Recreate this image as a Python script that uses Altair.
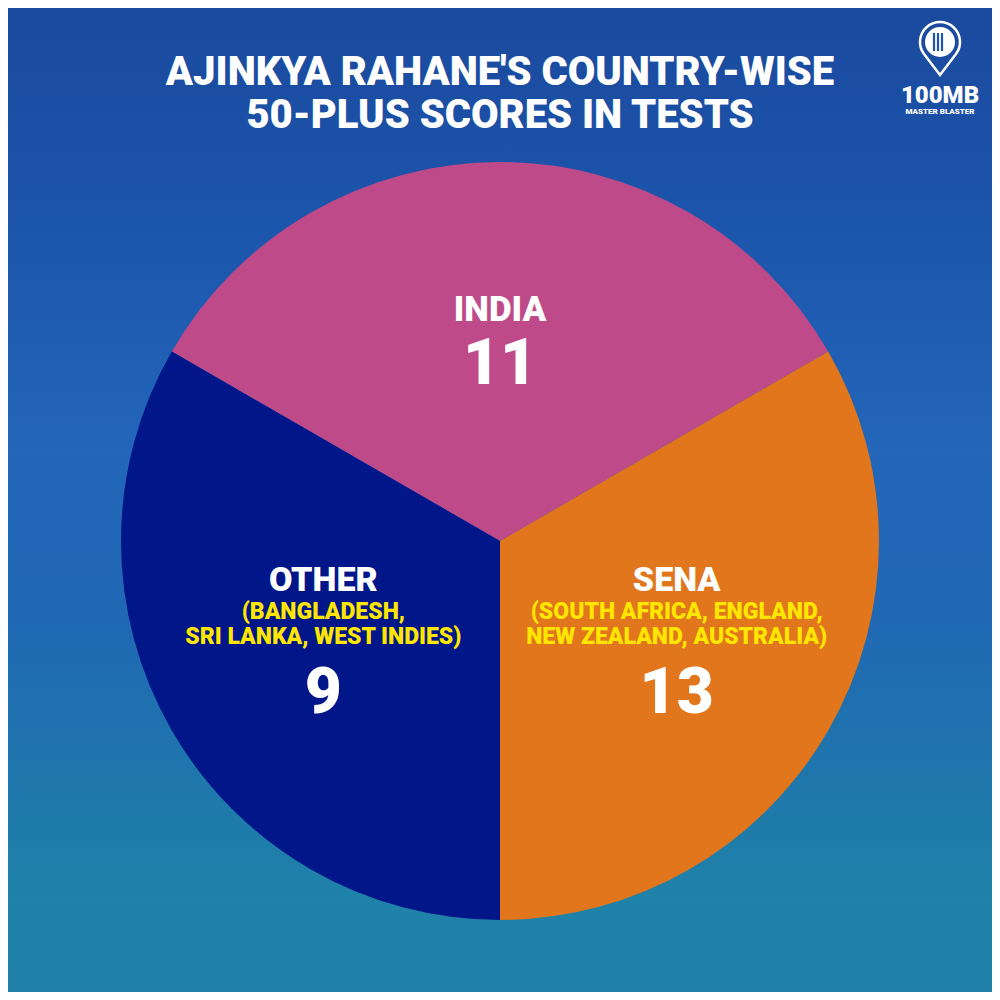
import math
import altair as alt
import pandas as pd

# ---- data ----
categories = ["INDIA", "SENA", "OTHER"]
scores = [11, 13, 9]                 # 50-plus scores shown in each slice
slice_share = [1, 1, 1]              # the picture draws three equal slices
country_line1 = ["", "(SOUTH AFRICA, ENGLAND,", "(BANGLADESH,"]
country_line2 = ["", "NEW ZEALAND, AUSTRALIA)", "SRI LANKA, WEST INDIES)"]
slice_colors = ["#BF4A8A", "#E1761C", "#001689"]
title_lines = ["AJINKYA RAHANE'S COUNTRY-WISE", "50-PLUS SCORES IN TESTS"]
logo_lines = ["100MB", "MASTER BLASTER"]

W, H = 984, 984
CX, CY = 492, 533
R = 379
LABEL_R = 204
FONT = "Roboto"

df = pd.DataFrame({
    "category": categories,
    "score_txt": [str(s) for s in scores],
    "share": slice_share,
    "order": list(range(len(categories))),
    "line1": country_line1,
    "line2": country_line2,
})
base = alt.Chart(df)

theta_scale = alt.Scale(range=[-math.pi / 3, 2 * math.pi - math.pi / 3])
theta = alt.Theta("share:Q", stack=True, scale=theta_scale)
order = alt.Order("order:Q")

one = pd.DataFrame({"a": [0]})

# background gradient
bg = alt.Chart(one).mark_rect(
    fill=alt.Gradient(
        gradient="linear", x1=0, y1=0, x2=0, y2=1,
        stops=[
            alt.GradientStop(color="#1A4A9E", offset=0),
            alt.GradientStop(color="#1C55AC", offset=0.22),
            alt.GradientStop(color="#2366BA", offset=0.45),
            alt.GradientStop(color="#2068B4", offset=0.62),
            alt.GradientStop(color="#1F76AC", offset=0.78),
            alt.GradientStop(color="#1F82A8", offset=0.9),
            alt.GradientStop(color="#2080A8", offset=1),
        ],
    )
).encode(x=alt.value(0), x2=alt.value(W), y=alt.value(0), y2=alt.value(H))

arcs = base.mark_arc(outerRadius=R, stroke=None).encode(
    theta=theta,
    order=order,
    color=alt.Color("category:N",
                    scale=alt.Scale(domain=categories, range=slice_colors),
                    legend=None),
    x=alt.value(CX), y=alt.value(CY),
)

is_india = alt.datum.category == "INDIA"
not_india = alt.datum.category != "INDIA"


def text_layer(field, dy, size, color, which):
    cond_text = alt.condition(which, alt.Text(f"{field}:N"), alt.value(""))
    return base.mark_text(
        radius=LABEL_R, dy=dy, font=FONT, fontWeight=900, fontSize=size,
        color=color, align="center", baseline="middle",
    ).encode(theta=theta, order=order, text=cond_text,
             x=alt.value(CX), y=alt.value(CY))


labels = [
    text_layer("category", -27, 35, "white", is_india),
    text_layer("score_txt", 28, 64, "white", is_india),
    text_layer("category", -62, 34, "white", not_india),
    text_layer("line1", -31, 23, "#FFE600", not_india),
    text_layer("line2", -6, 23, "#FFE600", not_india),
    text_layer("score_txt", 51, 64, "white", not_india),
]

# title
tdf = pd.DataFrame({"t": title_lines, "y": [65, 108]})
title = alt.Chart(tdf).mark_text(
    font=FONT, fontWeight=900, fontSize=40, color="white",
    align="center", baseline="middle",
).encode(text="t:N", x=alt.value(492), y=alt.Y("y:Q", scale=None))

# logo
logo_df = pd.DataFrame({"t": logo_lines, "y": [88, 104], "s": [24, 8]})
logo = alt.Chart(logo_df).mark_text(
    font=FONT, fontWeight=900, color="white", align="center", baseline="middle",
).encode(text="t:N", x=alt.value(932), y=alt.Y("y:Q", scale=None),
         size=alt.Size("s:Q", scale=None, legend=None))

pin = alt.Chart(one).mark_point(
    shape="M -0.8 0.6 A 1 1 0 1 1 0.8 0.6 L 0 1.65 Z",
    size=1600, stroke="white", strokeWidth=2.5, filled=False, opacity=1,
).encode(x=alt.value(932), y=alt.value(34))
pin_inner = alt.Chart(one).mark_point(
    shape="circle", size=900, fill="white", strokeWidth=0, filled=True, opacity=1,
).encode(x=alt.value(932), y=alt.value(34))
stumps = alt.Chart(pd.DataFrame({"sx": [926, 930, 934]})).mark_rule(
    color="#1C55AC", strokeWidth=2.2,
).encode(x=alt.X("sx:Q", scale=None), y=alt.value(25), y2=alt.value(43))

chart = alt.layer(bg, arcs, *labels, title, logo, pin, pin_inner, stumps).properties(
    width=W, height=H,
    autosize=alt.AutoSizeParams(type="none"),
    padding=0,
).configure_view(stroke=None).configure(background="#1A4A9E")

chart.save("out.html", embed_options={"renderer": "svg", "actions": False})
